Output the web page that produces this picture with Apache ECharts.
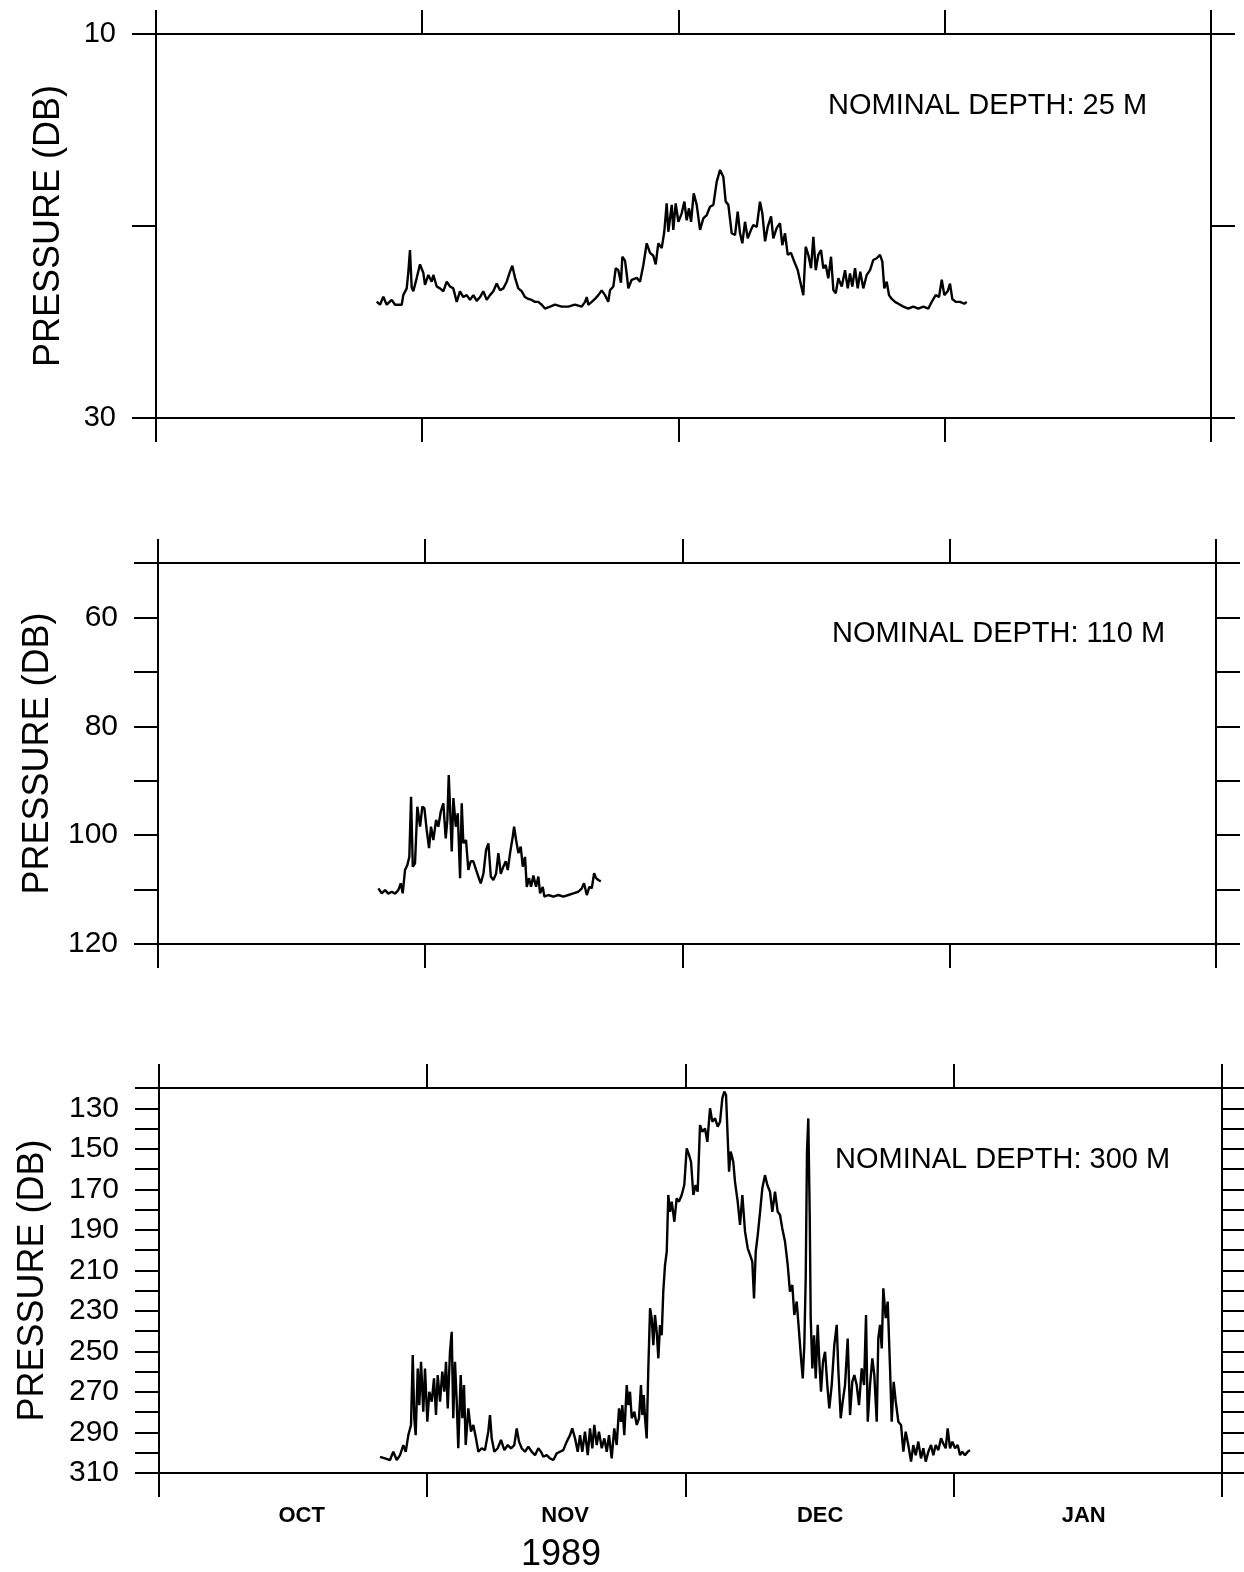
<!DOCTYPE html>
<html>
<head>
<meta charset="utf-8">
<script src="https://cdn.jsdelivr.net/npm/echarts@6/dist/echarts.min.js"></script>
<style>
  html, body { margin: 0; padding: 0; background: #fff; }
  #chart { width: 1244px; height: 1572px; }
</style>
</head>
<body>
<div id="chart"></div>
<script>
// x is days since 1 Oct 1989
var monthTicks = [0, 31, 61, 92, 123];
var monthMids = [16.5, 47, 76.5, 107];
var monthNames = ['OCT', 'NOV', 'DEC', 'JAN'];
var yearLabel = '1989';
var depthTitles = ['NOMINAL DEPTH: 25 M', 'NOMINAL DEPTH: 110 M', 'NOMINAL DEPTH: 300 M'];

var p1TickLabels = [10, 30];
var p2TickLabels = [60, 80, 100, 120];
var p3TickLabels = [130, 150, 170, 190, 210, 230, 250, 270, 290, 310];

// 25 m
var p1Days = [25.73,26.12,26.5,26.9,27.48,27.87,28.65,28.83,29.23,29.42,
  29.61,29.81,30.0,30.4,30.78,31.17,31.36,31.75,32.14,32.33,
  32.73,33.11,33.5,33.89,34.28,34.66,35.06,35.44,35.83,36.22,
  36.61,37.0,37.39,37.78,38.16,38.56,38.94,39.33,39.72,40.11,
  40.49,40.89,41.27,41.54,41.86,42.24,42.64,43.02,43.41,43.8,
  44.19,44.57,44.97,45.35,45.94,46.52,47.3,48.07,48.85,49.63,
  50.02,50.22,50.4,50.8,51.18,51.57,51.96,52.35,52.73,52.93,
  53.32,53.6,53.9,54.21,54.37,54.68,54.88,55.07,55.46,56.05,
  56.43,56.82,57.21,57.6,57.98,58.26,58.56,58.96,59.26,59.54,
  59.73,60.13,60.31,60.59,60.9,61.29,61.6,61.87,62.14,62.38,
  62.69,63.04,63.43,63.81,64.21,64.59,64.98,65.37,65.76,66.14,
  66.42,66.73,67.12,67.51,67.82,68.09,68.36,68.67,68.99,69.37,
  69.64,70.04,70.42,70.69,71.01,71.32,71.71,71.97,72.37,72.75,
  73.02,73.34,73.65,74.03,74.42,74.82,75.2,75.47,75.75,76.05,
  76.37,76.64,76.92,77.22,77.53,77.8,78.08,78.38,78.7,78.97,
  79.25,79.55,79.95,80.33,80.65,80.91,81.18,81.5,81.81,82.11,
  82.46,82.86,83.25,83.63,84.03,84.41,84.68,84.91,85.19,85.46,
  85.78,86.16,86.55,87.13,87.71,88.29,88.88,89.46,90.05,90.44,
  90.9,91.29,91.61,91.91,92.3,92.57,92.84,93.24,93.74,94.24,
  94.52];
var p1Press = [23.94,24.1,23.68,24.1,23.85,24.1,24.1,23.6,23.25,22.4,
  21.25,23.2,23.4,22.7,22.0,22.45,23.07,22.55,22.9,22.55,
  23.15,23.25,23.4,22.9,23.15,23.25,23.95,23.4,23.7,23.6,
  23.85,23.6,23.9,23.7,23.4,23.85,23.6,23.4,23.0,23.35,
  23.25,22.9,22.38,22.07,22.7,23.25,23.4,23.7,23.8,23.85,
  23.95,23.95,24.1,24.3,24.2,24.1,24.2,24.2,24.1,24.2,
  23.95,23.7,24.1,23.95,23.8,23.6,23.35,23.6,23.95,23.35,
  23.15,22.2,22.3,22.95,21.6,21.8,22.5,23.25,22.8,22.7,
  22.9,22.03,20.9,21.4,21.55,22.0,20.9,21.15,20.3,18.82,
  20.3,18.9,20.2,18.82,19.78,19.34,18.73,19.7,19.08,19.78,
  18.3,18.9,20.2,19.6,19.43,19.0,18.9,17.7,17.08,17.43,
  18.73,18.9,20.38,20.47,19.25,20.38,20.9,19.78,20.64,20.2,
  19.95,20.05,18.73,19.34,20.8,20.05,19.5,20.64,20.1,19.86,
  21.0,20.38,21.5,21.4,21.86,22.3,23.07,23.6,21.08,21.5,
  22.2,20.56,22.3,21.5,21.25,22.2,22.03,22.72,21.6,23.33,
  23.5,22.72,23.15,22.3,23.25,22.47,23.15,22.2,23.25,22.38,
  23.25,22.55,22.3,21.77,21.68,21.5,21.86,23.25,22.9,23.6,
  23.8,23.95,24.05,24.2,24.3,24.2,24.3,24.2,24.3,23.95,
  23.6,23.7,22.8,23.6,23.4,23.0,23.8,23.95,23.95,24.05,
  23.95];

// 110 m
var p2Days = [25.62,26.01,26.4,26.78,27.17,27.56,27.94,28.22,28.45,28.72,
  28.99,29.22,29.42,29.62,29.88,30.15,30.47,30.73,30.97,31.24,
  31.51,31.74,32.01,32.33,32.59,32.87,33.17,33.45,33.64,33.8,
  33.95,34.15,34.34,34.62,34.85,35.12,35.31,35.5,35.81,36.08,
  36.36,36.66,36.98,37.24,37.52,37.83,38.14,38.41,38.69,38.99,
  39.3,39.57,39.85,40.15,40.43,40.66,40.93,41.24,41.4,41.63,
  41.9,42.17,42.41,42.67,42.87,43.14,43.37,43.64,43.95,44.22,
  44.42,44.73,44.92,45.38,45.97,46.55,47.13,47.71,48.29,48.87,
  49.27,49.53,49.85,50.15,50.43,50.7,50.93,51.2,51.48];
var p2Press = [109.77,110.7,110.1,110.75,110.4,110.75,110.1,108.85,110.7,106.4,
  105.5,103.96,92.94,105.8,105.2,94.78,98.45,94.78,95.07,99.05,
  102.4,98.45,100.9,97.2,98.45,95.7,94.15,100.6,97.2,88.95,
  94.78,103.0,93.2,98.45,96.0,107.9,94.15,101.5,100.9,106.4,
  104.8,104.8,106.4,107.6,108.85,107.1,102.7,101.5,107.6,108.25,
  107.1,103.3,107.1,105.8,104.8,106.4,103.3,100.3,98.45,100.9,
  103.3,102.1,105.8,104.0,109.5,107.9,109.5,107.4,109.5,107.6,
  110.7,109.5,111.3,111.0,111.3,111.0,111.3,111.0,110.7,110.4,
  109.77,108.85,111.0,109.5,109.77,107.0,107.9,108.25,108.5];

// 300 m
var p3Days = [25.57,26.15,26.73,27.11,27.51,27.89,28.27,28.55,28.85,29.16,
  29.36,29.54,29.7,29.94,30.12,30.32,30.58,30.78,31.05,31.28,
  31.56,31.82,32.05,32.25,32.52,32.78,33.01,33.21,33.41,33.67,
  33.87,34.05,34.25,34.45,34.63,34.91,35.1,35.29,35.49,35.79,
  36.1,36.37,36.68,36.95,37.34,37.72,38.1,38.3,38.5,38.8,
  39.19,39.57,39.96,40.35,40.73,41.11,41.39,41.66,41.97,42.35,
  42.73,43.13,43.51,43.89,44.2,44.47,44.86,45.24,45.63,46.02,
  46.4,46.78,47.18,47.56,47.82,48.14,48.45,48.72,48.98,49.29,
  49.61,49.87,50.14,50.37,50.65,50.91,51.23,51.53,51.81,52.07,
  52.38,52.68,52.96,53.23,53.46,53.61,53.84,54.12,54.31,54.5,
  54.7,55.0,55.28,55.54,55.77,55.92,56.09,56.24,56.43,56.62,
  56.82,57.01,57.2,57.39,57.59,57.78,57.97,58.17,58.35,58.55,
  58.75,58.93,59.13,59.33,59.63,59.9,60.17,60.48,60.78,61.06,
  61.33,61.56,61.83,62.1,62.33,62.6,62.87,63.18,63.45,63.76,
  64.02,64.34,64.65,64.92,65.18,65.41,65.61,65.81,65.96,66.15,
  66.45,66.65,66.96,67.23,67.5,67.81,68.12,68.39,68.65,68.85,
  69.05,69.28,69.55,69.81,70.12,70.39,70.7,70.97,71.28,71.59,
  71.86,72.12,72.44,72.75,73.01,73.28,73.51,73.79,74.06,74.29,
  74.49,74.67,74.83,74.98,75.13,75.3,75.41,75.6,75.8,75.99,
  76.22,76.41,76.6,76.83,77.07,77.33,77.56,77.84,78.14,78.42,
  78.6,78.88,79.11,79.38,79.69,79.96,80.22,80.46,80.73,81.0,
  81.31,81.58,81.81,82.01,82.27,82.54,82.77,83.05,83.23,83.43,
  83.63,83.81,84.09,84.32,84.59,84.78,85.01,85.25,85.55,85.86,
  86.13,86.4,86.7,87.02,87.28,87.56,87.86,88.17,88.44,88.72,
  89.02,89.33,89.6,89.87,90.18,90.49,90.75,91.03,91.26,91.53,
  91.8,92.11,92.42,92.69,92.95,93.26,93.58,93.84];
var p3Press = [302.0,302.8,303.6,299.5,303.6,301.2,296.2,299.5,291.3,286.3,
  251.8,283.0,291.3,258.4,276.5,255.1,279.8,258.4,284.7,269.9,
  274.8,263.3,281.4,261.7,274.8,260.0,269.9,255.1,278.1,250.2,
  240.3,283.0,255.1,274.8,297.8,261.7,283.0,266.6,296.2,278.1,
  289.6,286.3,292.9,299.5,297.8,298.7,289.6,281.4,292.9,299.5,
  297.8,293.7,298.7,296.2,297.8,296.2,288.0,294.5,297.8,299.5,
  297.0,299.5,301.2,297.8,299.5,302.0,301.2,302.8,303.6,300.3,
  299.5,298.7,294.5,291.3,288.0,292.9,299.5,291.3,299.5,289.6,
  301.2,288.0,297.8,286.3,296.2,289.6,297.8,292.9,299.5,291.3,
  302.8,288.0,296.2,278.1,284.7,276.5,291.3,266.6,276.5,269.9,
  283.0,279.8,286.3,283.0,266.6,281.4,271.5,283.0,292.9,258.4,
  228.7,233.6,246.9,232.0,240.3,253.4,237.0,242.0,220.5,207.4,
  200.8,172.8,181.1,176.1,186.0,174.5,176.1,172.8,167.9,149.8,
  153.0,156.4,172.8,167.9,171.2,138.3,141.6,140.0,146.6,130.0,
  136.6,135.0,139.1,136.6,125.1,121.8,123.4,144.9,161.3,151.4,
  156.4,166.3,176.1,187.6,172.8,190.9,199.1,202.4,205.7,223.8,
  200.8,192.6,181.1,169.5,163.0,167.9,171.2,181.1,171.2,181.1,
  182.7,189.3,195.9,207.4,220.5,217.2,232.0,225.4,240.3,253.4,
  263.3,246.9,213.9,151.4,135.0,184.3,233.6,258.4,242.0,263.3,
  236.9,255.1,269.9,255.1,250.2,266.6,278.1,266.6,246.9,236.9,
  258.4,283.0,274.8,266.6,243.6,281.4,265.0,261.7,266.6,276.5,
  258.4,266.6,232.0,284.7,266.6,253.4,261.7,284.7,243.6,236.9,
  248.5,218.9,233.6,225.4,258.4,284.7,265.0,274.8,284.7,286.3,
  299.5,289.6,296.2,304.4,296.2,301.2,294.5,302.8,297.8,304.4,
  299.5,296.2,301.2,296.2,298.7,292.9,295.4,297.8,288.0,297.8,
  294.5,297.8,296.2,301.2,299.5,301.2,299.5,298.7];

var BLACK = '#000';
var SANS = '"Liberation Sans", Arial, sans-serif';
var NARROW = '"Liberation Sans Narrow", "Arial Narrow", "Liberation Sans", sans-serif';
var line2 = { color: BLACK, width: 2 };

var panels = [
  { days: p1Days, press: p1Press, min: 10, max: 30, labels: p1TickLabels, labelSize: 29,
    grid: { left: 156, right: 33, top: 34, height: 384 }, nameGap: 89, titleAt: [828, 91] },
  { days: p2Days, press: p2Press, min: 50, max: 120, labels: p2TickLabels, labelSize: 30,
    grid: { left: 158, right: 28, top: 563, height: 381 }, nameGap: 102, titleAt: [832, 619] },
  { days: p3Days, press: p3Press, min: 120, max: 310, labels: p3TickLabels, labelSize: 30,
    grid: { left: 159, right: 22, top: 1088, height: 385 }, nameGap: 108, titleAt: [835, 1145] }
];

var grids = [], xAxes = [], yAxes = [], series = [], titles = [];

panels.forEach(function (p, i) {
  grids.push(Object.assign({ outerBoundsMode: 'none' }, p.grid));

  ['bottom', 'top'].forEach(function (pos) {
    var showMonths = (i === 2 && pos === 'bottom');
    xAxes.push({
      type: 'value', gridIndex: i, position: pos, min: 0, max: 123,
      axisLine: { show: true, onZero: false, lineStyle: line2 },
      axisTick: { show: true, inside: false, length: 24, customValues: monthTicks, lineStyle: line2 },
      axisLabel: showMonths ? {
        customValues: monthMids,
        formatter: function (v) { return monthNames[monthMids.indexOf(v)] || ''; },
        margin: 32, fontSize: 22, fontWeight: 'bold', fontFamily: NARROW, color: BLACK
      } : { show: false },
      splitLine: { show: false }
    });
  });

  ['left', 'right'].forEach(function (pos) {
    var isLeft = pos === 'left';
    yAxes.push({
      type: 'value', gridIndex: i, position: pos, inverse: true,
      min: p.min, max: p.max, interval: 10,
      name: isLeft ? 'PRESSURE (DB)' : '',
      nameLocation: 'middle', nameGap: p.nameGap, nameMoveOverlap: false,
      nameTextStyle: { fontSize: 36, fontFamily: NARROW, color: BLACK },
      axisLine: { show: true, onZero: false, lineStyle: line2 },
      axisTick: { show: true, inside: false, length: 24, lineStyle: line2 },
      axisLabel: isLeft ? {
        margin: 40, fontSize: p.labelSize, fontFamily: SANS, color: BLACK,
        formatter: function (v) { return p.labels.indexOf(v) >= 0 ? String(v) : ''; }
      } : { show: false },
      splitLine: { show: false }
    });
  });

  series.push({
    type: 'line', xAxisIndex: 2 * i, yAxisIndex: 2 * i,
    data: p.days.map(function (d, k) { return [d, p.press[k]]; }),
    symbol: 'none', showSymbol: false, silent: true,
    lineStyle: { color: BLACK, width: 2.4 }
  });

  titles.push({
    text: depthTitles[i], left: p.titleAt[0], top: p.titleAt[1], padding: 0,
    textStyle: { fontSize: 29, fontWeight: 'normal', fontFamily: SANS, color: BLACK }
  });
});

var chart = echarts.init(document.getElementById('chart'));
chart.setOption({
  animation: false,
  backgroundColor: '#fff',
  title: titles,
  grid: grids,
  xAxis: xAxes,
  yAxis: yAxes,
  series: series,
  graphic: [{
    type: 'text', left: 521, top: 1537,
    style: { text: yearLabel, font: '36px ' + SANS, fill: BLACK }
  }]
});
</script>
</body>
</html>
